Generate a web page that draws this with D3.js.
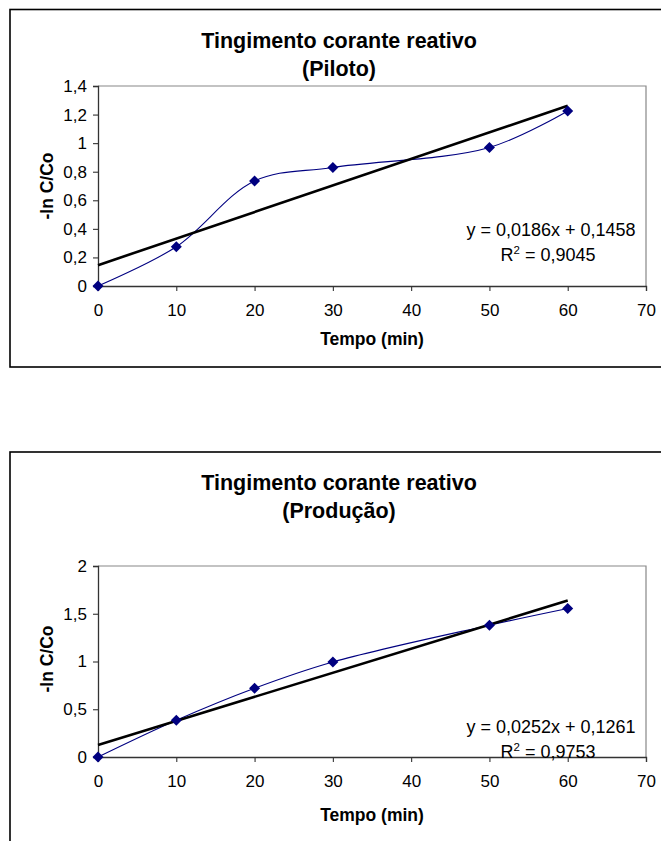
<!DOCTYPE html>
<html>
<head>
<meta charset="utf-8">
<script src="https://cdn.jsdelivr.net/npm/d3@7"></script>
<style>
  html, body { margin: 0; padding: 0; background: #fff; }
  svg { display: block; font-family: "Liberation Sans", Arial, sans-serif; }
</style>
</head>
<body>
<svg id="chart" width="661" height="841"></svg>
<script>
// ---- Data ----
const tempo = [0, 10, 20, 30, 50, 60];
const pilotoValues = [0, 0.275, 0.735, 0.83, 0.97, 1.225];
const producaoValues = [0, 0.385, 0.72, 0.995, 1.38, 1.555];

const pilotoTrend = { slope: 0.0186, intercept: 0.1458 };
const producaoTrend = { slope: 0.0252, intercept: 0.1261 };

const xTicks = [0, 10, 20, 30, 40, 50, 60, 70];
const pilotoYTicks = [0, 0.2, 0.4, 0.6, 0.8, 1, 1.2, 1.4];
const producaoYTicks = [0, 0.5, 1, 1.5, 2];

const titleLine1 = "Tingimento corante reativo";
const pilotoSubtitle = "(Piloto)";
const producaoSubtitle = "(Produção)";
const xTitle = "Tempo (min)";
const yTitle = "-ln C/Co";
const pilotoEq = ["y = 0,0186x + 0,1458", "0,9045"];
const producaoEq = ["y = 0,0252x + 0,1261", "0,9753"];

const svg = d3.select("#chart");
const fmt = d => String(d).replace(".", ",");

function drawChart(cfg) {
  const g = svg.append("g");
  // outer frame (extends beyond right edge)
  g.append("rect")
    .attr("x", 10).attr("y", cfg.frameTop)
    .attr("width", 700).attr("height", cfg.frameH)
    .attr("fill", "none").attr("stroke", "#000").attr("stroke-width", 1.6);

  const x = d3.scaleLinear().domain([0, 70]).range([98, 646]);
  const y = d3.scaleLinear().domain([0, cfg.yMax]).range([cfg.y0, cfg.yTop]);

  // plot area border (gray top & right)
  g.append("path")
    .attr("d", `M${x(0)},${y(cfg.yMax)}H${x(70)}V${y(0)}`)
    .attr("fill", "none").attr("stroke", "#888").attr("stroke-width", 1.2);

  // axes
  const xAxis = g.append("g").attr("transform", `translate(0,${y(0)})`)
    .call(d3.axisBottom(x).tickValues(xTicks).tickSize(5).tickPadding(13).tickFormat(d => d));
  const yAxis = g.append("g").attr("transform", `translate(${x(0)},0)`)
    .call(d3.axisLeft(y).tickValues(cfg.yTicks).tickSize(5).tickPadding(6).tickFormat(fmt));
  [xAxis, yAxis].forEach(a => {
    a.select(".domain").attr("stroke", "#333").attr("stroke-width", 1.3);
    a.selectAll(".tick line").attr("stroke", "#333").attr("stroke-width", 1.1);
    a.selectAll("text").attr("fill", "#000").attr("font-size", 17)
      .attr("font-family", "Liberation Sans, Arial, sans-serif");
  });

  // data line (smoothed)
  const pts = tempo.map((t, i) => [t, cfg.values[i]]);
  const line = d3.line().x(d => x(d[0])).y(d => y(d[1])).curve(d3.curveCatmullRom.alpha(0.5));
  g.append("path").datum(pts).attr("d", line)
    .attr("fill", "none").attr("stroke", "#000080").attr("stroke-width", 1.1);

  // trend line
  const tr = cfg.trend;
  g.append("line")
    .attr("x1", x(0)).attr("y1", y(tr.intercept))
    .attr("x2", x(60)).attr("y2", y(tr.intercept + tr.slope * 60))
    .attr("stroke", "#000").attr("stroke-width", 2.6);

  // markers (diamonds)
  g.selectAll(".mk").data(pts).enter().append("path")
    .attr("transform", d => `translate(${x(d[0])},${y(d[1])})`)
    .attr("d", "M0,-5.5L5.5,0L0,5.5L-5.5,0Z")
    .attr("fill", "#000080");

  // titles
  g.append("text").attr("x", 339).attr("y", cfg.titleY)
    .attr("text-anchor", "middle").attr("font-weight", "bold").attr("font-size", 21.5)
    .text(titleLine1);
  g.append("text").attr("x", 339).attr("y", cfg.titleY + 28)
    .attr("text-anchor", "middle").attr("font-weight", "bold").attr("font-size", 21.5)
    .text(cfg.subtitle);

  // axis titles
  g.append("text").attr("x", 372).attr("y", cfg.xTitleY)
    .attr("text-anchor", "middle").attr("font-weight", "bold").attr("font-size", 17.5)
    .text(xTitle);
  g.append("text")
    .attr("transform", `translate(53,${cfg.yTitleY}) rotate(-90)`)
    .attr("text-anchor", "middle").attr("font-weight", "bold").attr("font-size", 17.5)
    .text(yTitle);

  // equation
  g.append("text").attr("x", 551).attr("y", cfg.eqY)
    .attr("text-anchor", "middle").attr("font-size", 18)
    .text(cfg.eq[0]);
  const r2 = g.append("text").attr("x", 548).attr("y", cfg.eqY + 25)
    .attr("text-anchor", "middle").attr("font-size", 18);
  r2.append("tspan").text("R");
  r2.append("tspan").attr("font-size", 11.5).attr("dy", -7).text("2");
  r2.append("tspan").attr("dy", 7).text(" = " + cfg.eq[1]);
}

drawChart({
  frameTop: 9.5, frameH: 357.5,
  yMax: 1.4, y0: 286, yTop: 86, yTicks: pilotoYTicks,
  values: pilotoValues, trend: pilotoTrend,
  titleY: 47.5, subtitle: pilotoSubtitle,
  xTitleY: 345, yTitleY: 186,
  eq: pilotoEq, eqY: 236
});

drawChart({
  frameTop: 452, frameH: 500,
  yMax: 2, y0: 757, yTop: 566, yTicks: producaoYTicks,
  values: producaoValues, trend: producaoTrend,
  titleY: 489.5, subtitle: producaoSubtitle,
  xTitleY: 821, yTitleY: 659,
  eq: producaoEq, eqY: 733
});
</script>
</body>
</html>
